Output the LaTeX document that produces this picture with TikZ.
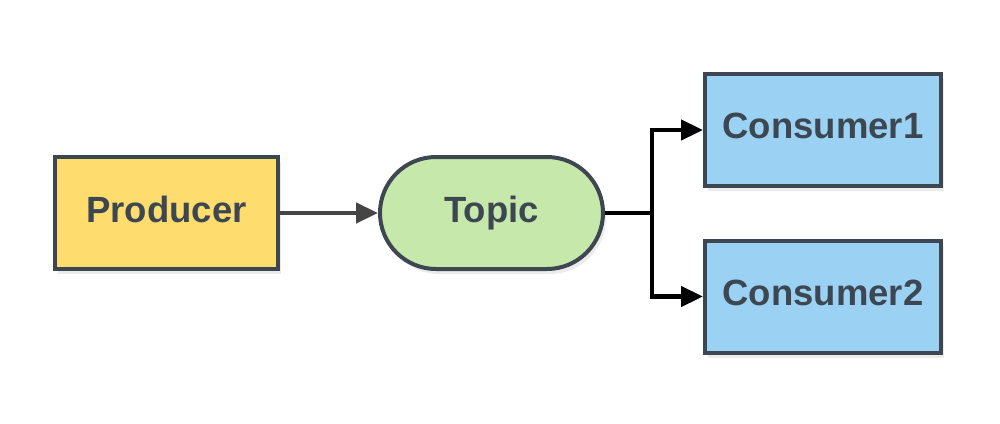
\documentclass[tikz,border=0pt]{standalone}
\usepackage{fontspec}
\setmainfont{Liberation Sans}
\usetikzlibrary{arrows.meta,shadows}
\definecolor{edge}{HTML}{3D4752}
\definecolor{prodfill}{HTML}{FFDC6E}
\definecolor{topicfill}{HTML}{C6E8AA}
\definecolor{consfill}{HTML}{9BD1F2}
\definecolor{arrowgray}{HTML}{454545}
\newcommand{\lift}[1]{\raisebox{8pt}{#1}}
\tikzset{
  box/.style={draw=edge, line width=4pt, text=edge, font=\bfseries\fontsize{36.5}{40}\selectfont,
    inner sep=0pt, drop shadow={shadow xshift=3pt, shadow yshift=-5pt, opacity=0.08, fill=black}},
  conn/.style={line width=4.5pt, -{Triangle[length=22pt,width=20pt]}},
}
\begin{document}
\begin{tikzpicture}[x=1pt,y=-1pt]
\useasboundingbox (0,0) rectangle (1000,423);
\node[box, fill=prodfill, minimum width=223pt, minimum height=112pt] (prod) at (166.5,213) {\lift{Producer}};
\node[box, fill=topicfill, minimum width=223pt, minimum height=112pt, rounded corners=56pt] (topic) at (491.5,213) {\lift{Topic}};
\node[box, fill=consfill, minimum width=236pt, minimum height=112pt] (c1) at (823,130) {\lift{Consumer1}};
\node[box, fill=consfill, minimum width=236pt, minimum height=112pt] (c2) at (823,296.5) {\lift{Consumer2}};
\coordinate (split) at (652,213);
\draw[conn, draw=arrowgray, fill=arrowgray] (prod.east) -- (topic.west);
\draw[line width=4.5pt, black] (topic.east) -- (split);
\draw[conn, black] (split) |- (c1.west);
\draw[conn, black] (split) |- (c2.west);
\end{tikzpicture}
\end{document}
